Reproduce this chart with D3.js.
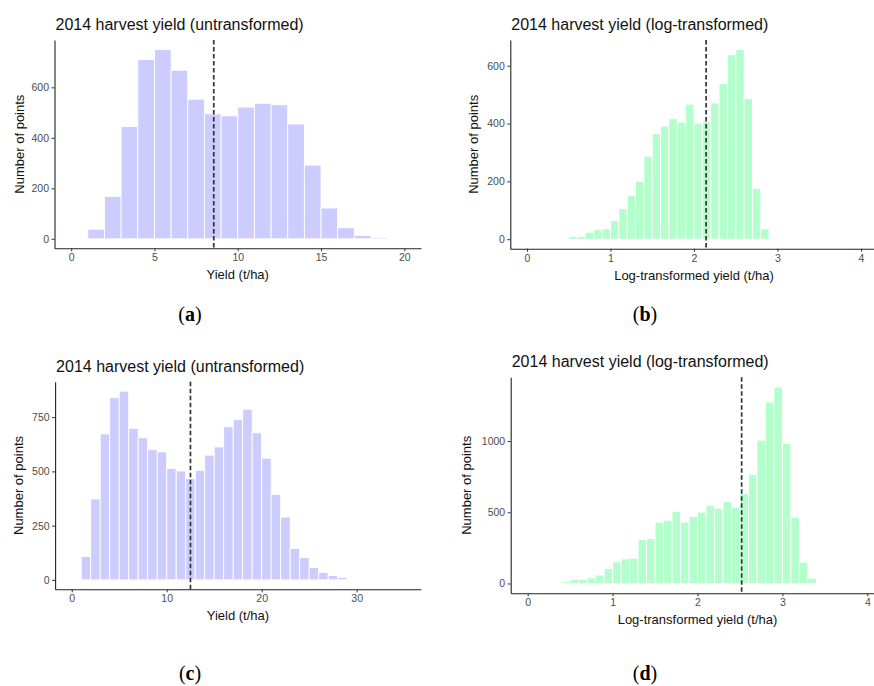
<!DOCTYPE html>
<html>
<head>
<meta charset="utf-8">
<script src="https://cdn.jsdelivr.net/npm/d3@7"></script>
<style>
  body { margin: 0; background: #fff; }
  svg { display: block; }
</style>
</head>
<body>
<svg id="chart" width="874" height="686"></svg>
<script>

// ---- data ----

// (a) untransformed yield, bins of 1 t/ha
var binsA = [1, 2, 3, 4, 5, 6, 7, 8, 9, 10, 11, 12, 13, 14, 15, 16, 17, 18];
var countsA = [38, 168, 445, 710, 750, 668, 553, 495, 487, 522, 537, 531, 455, 292, 122, 44, 14, 6];
var meanA = 8.56;
var xTicksA = [0, 5, 10, 15, 20];
var yTicksA = [0, 200, 400, 600];

// (b) log-transformed yield, bins of 0.1
var binsB = [0.4, 0.5, 0.6, 0.7, 0.8, 0.9, 1.0, 1.1, 1.2, 1.3, 1.4, 1.5, 1.6,
	1.7, 1.8, 1.9, 2.0, 2.1, 2.2, 2.3, 2.4, 2.5, 2.6, 2.7, 2.8, 2.9];
var countsB = [3, 10, 10, 24, 33, 36, 65, 106, 151, 200, 287, 365, 391,
	417, 405, 467, 401, 407, 471, 538, 638, 656, 486, 175, 36, 3];
var meanB = 2.145;
var xTicksB = [0, 1, 2, 3, 4];
var yTicksB = [0, 200, 400, 600];

// (c) untransformed yield, bins of 1 t/ha
var binsC = [1, 2, 3, 4, 5, 6, 7, 8, 9, 10, 11, 12, 13, 14, 15, 16, 17, 18, 19, 20,
	21, 22, 23, 24, 25, 26, 27, 28, 29];
var countsC = [108, 373, 673, 840, 870, 699, 655, 600, 590, 514, 502, 467, 505, 575, 613, 706, 740, 787, 678, 561,
	393, 290, 145, 103, 57, 34, 20, 11, 3];
var meanC = 12.5;
var xTicksC = [0, 10, 20, 30];
var yTicksC = [0, 250, 500, 750];

// (d) log-transformed yield, bins of 0.1
var binsD = [0.4, 0.5, 0.6, 0.7, 0.8, 0.9, 1.0, 1.1, 1.2, 1.3, 1.4, 1.5, 1.6, 1.7, 1.8, 1.9,
	2.0, 2.1, 2.2, 2.3, 2.4, 2.5, 2.6, 2.7, 2.8, 2.9, 3.0, 3.1, 3.2, 3.3, 3.4];
var countsD = [14, 30, 30, 40, 59, 105, 152, 173, 178, 309, 316, 431, 445, 506, 431, 471,
	501, 548, 529, 576, 536, 632, 766, 1007, 1274, 1379, 984, 464, 150, 37, 5];
var meanD = 2.52;
var xTicksD = [0, 1, 2, 3, 4];
var yTicksD = [0, 500, 1000];

var titleUntr = "2014 harvest yield (untransformed)";
var titleLog = "2014 harvest yield (log-transformed)";
var xTitleUntr = "Yield (t/ha)";
var xTitleLog = "Log-transformed yield (t/ha)";
var yTitle = "Number of points";

var blueFill = "#ccccff";
var greenFill = "#b3ffcc";

var svg = d3.select("#chart");
svg.append("rect").attr("width", 874).attr("height", 686).attr("fill", "#fff");

var panels = [
	{ tag: "a", bins: binsA, counts: countsA, width: 1, mean: meanA, xTicks: xTicksA, yTicks: yTicksA,
		xDomain: [-1, 21], left: 54.5, right: 421, top: 40, bottom: 248.3,
		title: titleUntr, xTitle: xTitleUntr, fill: blueFill, yTitleX: 23.5, labelX: 190, labelY: 321 },
	{ tag: "b", bins: binsB, counts: countsB, width: 0.1, mean: meanB, xTicks: xTicksB, yTicks: yTicksB,
		xDomain: [-0.2, 4.2], left: 510.3, right: 877.7, top: 40, bottom: 248.7,
		title: titleLog, xTitle: xTitleLog, fill: greenFill, yTitleX: 477.6, labelX: 645, labelY: 321 },
	{ tag: "c", bins: binsC, counts: countsC, width: 1, mean: meanC, xTicks: xTicksC, yTicks: yTicksC,
		xDomain: [-1.75, 36.75], left: 55.1, right: 420.8, top: 381.7, bottom: 589.3,
		title: titleUntr, xTitle: xTitleUntr, fill: blueFill, yTitleX: 23.3, labelX: 190, labelY: 680 },
	{ tag: "d", bins: binsD, counts: countsD, width: 0.1, mean: meanD, xTicks: xTicksD, yTicks: yTicksD,
		xDomain: [-0.2, 4.2], left: 510.7, right: 884.3, top: 377.3, bottom: 593.3,
		title: titleLog, xTitle: xTitleLog, fill: greenFill, yTitleX: 471, labelX: 645, labelY: 680 }
];

var plain = function(d)
{
	return String(d);
};

panels.forEach(function(p)
{
	var g = svg.append("g");

	var maxCount = d3.max(p.counts);
	var x = d3.scaleLinear().domain(p.xDomain).range([p.left, p.right]);
	var y = d3.scaleLinear().domain([-0.05 * maxCount, 1.05 * maxCount]).range([p.bottom, p.top]);

	// bars
	g.selectAll("rect.bar")
		.data(p.bins)
		.enter()
		.append("rect")
		.attr("class", "bar")
		.attr("x", function(d)
		{
			return x(d);
		})
		.attr("width", function(d)
		{
			return x(d + p.width) - x(d);
		})
		.attr("y", function(d, i)
		{
			return y(p.counts[i]);
		})
		.attr("height", function(d, i)
		{
			return y(0) - y(p.counts[i]);
		})
		.attr("fill", p.fill)
		.attr("stroke", "#fff")
		.attr("stroke-width", 0.9);

	// mean line
	g.append("line")
		.attr("x1", x(p.mean))
		.attr("x2", x(p.mean))
		.attr("y1", p.top)
		.attr("y2", p.bottom)
		.attr("stroke", "#333")
		.attr("stroke-width", 1.7)
		.attr("stroke-dasharray", "4.5,2.5");

	// axes
	var xAxis = g.append("g")
		.attr("transform", "translate(0," + p.bottom + ")")
		.call(d3.axisBottom(x).tickValues(p.xTicks).tickFormat(plain)
			.tickSize(3).tickSizeOuter(0).tickPadding(2.5));
	var yAxis = g.append("g")
		.attr("transform", "translate(" + p.left + ",0)")
		.call(d3.axisLeft(y).tickValues(p.yTicks).tickFormat(plain)
			.tickSize(3).tickSizeOuter(0).tickPadding(2.5));

	[xAxis, yAxis].forEach(function(a)
	{
		a.select(".domain").attr("stroke", "#222").attr("stroke-width", 1.1);
		a.selectAll(".tick line").attr("stroke", "#333").attr("stroke-width", 1);
		a.selectAll(".tick text")
			.attr("fill", "#4d4d4d")
			.style("font-family", "'Liberation Sans', Arial, sans-serif")
			.style("font-size", "10.5px");
	});

	// titles
	g.append("text")
		.attr("x", p.left + 1)
		.attr("y", p.top - 10)
		.style("font-family", "'Liberation Sans', Arial, sans-serif")
		.style("font-size", "16px")
		.attr("fill", "#111")
		.text(p.title);

	g.append("text")
		.attr("x", (p.left + p.right) / 2)
		.attr("y", p.bottom + 31)
		.attr("text-anchor", "middle")
		.style("font-family", "'Liberation Sans', Arial, sans-serif")
		.style("font-size", "13px")
		.attr("fill", "#111")
		.text(p.xTitle);

	g.append("text")
		.attr("transform", "translate(" + p.yTitleX + "," + ((p.top + p.bottom) / 2) + ") rotate(-90)")
		.attr("text-anchor", "middle")
		.style("font-family", "'Liberation Sans', Arial, sans-serif")
		.style("font-size", "13px")
		.attr("fill", "#111")
		.text(yTitle);

	// sub-figure label
	var lab = svg.append("text")
		.attr("x", p.labelX)
		.attr("y", p.labelY)
		.attr("text-anchor", "middle")
		.style("font-family", "'Liberation Serif', 'DejaVu Serif', serif")
		.style("font-size", "20px")
		.attr("fill", "#000");
	lab.append("tspan").text("(");
	lab.append("tspan").attr("font-weight", "bold").text(p.tag);
	lab.append("tspan").text(")");
});

</script>
</body>
</html>
